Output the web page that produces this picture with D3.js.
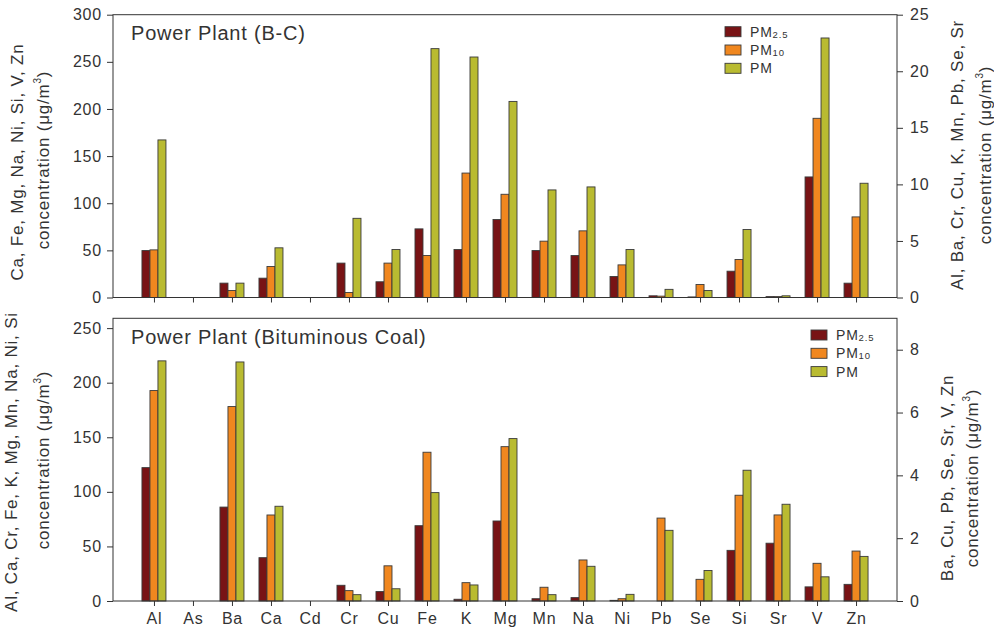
<!DOCTYPE html>
<html lang="en">
<head>
<meta charset="UTF-8">
<title>Power Plant elements</title>
<style>
  body { margin: 0; background: #fff; }
  svg text { font-family: "Liberation Sans", Arial, sans-serif; fill: #333; letter-spacing: 0.8px; }
</style>
</head>
<body>
<div id="wrapper"></div>
<script src="https://d3js.org/d3.v7.min.js"></script>
<script>
// elements on the x axis
const categories = ['Al', 'As', 'Ba', 'Ca', 'Cd', 'Cr', 'Cu', 'Fe', 'K', 'Mg', 'Mn', 'Na', 'Ni', 'Pb', 'Se', 'Si', 'Sr', 'V', 'Zn'];

// legend
const legendMain = ['PM', 'PM', 'PM'];
const legendSub = ['2.5', '10', ''];
const colors = ['#781315', '#f0871f', '#b9bb31'];

// Power Plant (B-C), values in ug/m3 (right-axis elements use the right scale)
const bcRightElements = ['Al', 'Ba', 'Cr', 'Cu', 'K', 'Mn', 'Pb', 'Se', 'Sr'];
const bcPM25 = [4.15, null, 1.27, 20.5, null, 3.04, 1.39, 72.8, 4.24, 82.7, 4.15, 44.5, 22.3, 0.15, 0.05, 27.9, 0.08, 127.9, 15.2];
const bcPM10 = [4.21, null, 0.62, 32.9, null, 0.44, 3.04, 44.5, 11.0, 109.5, 4.98, 70.7, 34.6, 0.12, 1.15, 40.3, 0.08, 190.1, 85.5];
const bcPM   = [13.93, null, 1.27, 52.7, null, 7.0, 4.24, 264, 21.26, 208, 9.51, 117.3, 50.9, 0.72, 0.62, 72.1, 0.15, 275.3, 121.2];
const bcLeftTicks = [0, 50, 100, 150, 200, 250, 300];
const bcRightTicks = [0, 5, 10, 15, 20, 25];

// Power Plant (Bituminous Coal)
const bitRightElements = ['Ba', 'Cu', 'Pb', 'Se', 'Sr', 'V', 'Zn'];
const bitPM25 = [122.2, null, 2.99, 39.7, null, 14.4, 0.30, 69, 1.6, 73.3, 2.1, 3.1, 0.6, null, null, 46.4, 1.84, 0.45, 0.53];
const bitPM10 = [192.8, null, 6.19, 78.8, null, 9.5, 1.12, 136.3, 16.8, 141.4, 12.6, 37.6, 2.1, 2.64, 0.69, 96.9, 2.74, 1.2, 1.59];
const bitPM   = [220, null, 7.61, 86.8, null, 5.8, 0.39, 99.3, 14.7, 148.8, 5.8, 31.8, 6.1, 2.25, 0.97, 119.8, 3.08, 0.77, 1.42];
const bitLeftTicks = [0, 50, 100, 150, 200, 250];
const bitRightTicks = [0, 2, 4, 6, 8];

const width = 994, height = 634;
const left = 113, right = 897;

const svg = d3.select('#wrapper').append('svg')
    .attr('width', width)
    .attr('height', height);

const x = d3.scalePoint()
    .domain(categories)
    .range([left, right])
    .padding(1.05);

const barW = 8;

function drawPanel(p) {
    const yL = d3.scaleLinear().domain([0, p.leftMax]).range([p.bottom, p.top]);
    const yR = d3.scaleLinear().domain([0, p.rightMax]).range([p.bottom, p.top]);
    const g = svg.append('g');

    // bars
    p.series.forEach((vals, s) => {
        const rows = categories.map((c, i) => ({ c, v: vals[i] })).filter(d => d.v != null);
        g.selectAll(null)
            .data(rows)
            .enter()
            .append('rect')
            .attr('x', d => x(d.c) - 1.5 * barW + s * barW)
            .attr('y', d => (p.rightSet.includes(d.c) ? yR : yL)(d.v))
            .attr('width', barW)
            .attr('height', d => p.bottom - (p.rightSet.includes(d.c) ? yR : yL)(d.v))
            .attr('fill', colors[s])
            .attr('stroke', '#3a3a3a')
            .attr('stroke-width', 0.9);
    });

    // frame
    g.append('rect')
        .attr('x', left).attr('y', p.top)
        .attr('width', right - left).attr('height', p.bottom - p.top)
        .attr('fill', 'none').attr('stroke', '#333').attr('stroke-width', 1);

    // axes
    const ax = g.append('g').attr('transform', `translate(${left},0)`)
        .call(d3.axisLeft(yL).tickValues(p.leftTicks).tickSize(6).tickPadding(5));
    const axR = g.append('g').attr('transform', `translate(${right},0)`)
        .call(d3.axisRight(yR).tickValues(p.rightTicks).tickSize(6).tickPadding(7));
    const axB = g.append('g').attr('transform', `translate(0,${p.bottom})`)
        .call(d3.axisBottom(x).tickSize(5).tickSizeOuter(0).tickPadding(7)
            .tickFormat(p.showX ? (d => d) : () => ''));
    [ax, axR, axB].forEach(a => {
        a.attr('font-size', 16).attr('color', '#333');
        a.select('.domain').remove();
    });

    // title
    g.append('text')
        .attr('x', 131).attr('y', p.top + 25.5)
        .attr('font-size', 20)
        .text(p.title);

    // axis labels
    function axisLabel(xPos, yc, lines) {
        const t = g.append('text')
            .attr('transform', `translate(${xPos[0]},${yc[0]}) rotate(-90)`)
            .attr('text-anchor', 'middle')
            .attr('font-size', 17)
            .text(lines);
        const t2 = g.append('text')
            .attr('transform', `translate(${xPos[1]},${yc[1]}) rotate(-90)`)
            .attr('text-anchor', 'middle')
            .attr('font-size', 17);
        t2.append('tspan').text('concentration (\u03bcg/m');
        t2.append('tspan').attr('font-size', 10).attr('dy', -8).text('3');
        t2.append('tspan').attr('dy', 8).text(')');
    }
    axisLabel(p.leftLabelX, p.leftLabelY, p.leftLabel);
    axisLabel(p.rightLabelX, p.rightLabelY, p.rightLabel);

    // legend
    const lg = g.append('g').attr('transform', `translate(${p.legendX},${p.legendY})`);
    legendMain.forEach((m, i) => {
        lg.append('rect')
            .attr('x', 0).attr('y', i * 18.3)
            .attr('width', 16).attr('height', 10)
            .attr('fill', colors[i]).attr('stroke', '#3a3a3a').attr('stroke-width', 0.9);
        const t = lg.append('text')
            .attr('x', 25).attr('y', i * 18.3 + 10)
            .attr('font-size', 14);
        t.append('tspan').text(m);
        if (legendSub[i]) t.append('tspan').attr('font-size', 9.5).attr('dy', 1).text(legendSub[i]);
    });
}

drawPanel({
    title: 'Power Plant (B-C)',
    top: 14.7, bottom: 297.5,
    leftMax: 300, rightMax: 25,
    leftTicks: bcLeftTicks, rightTicks: bcRightTicks,
    rightSet: bcRightElements,
    series: [bcPM25, bcPM10, bcPM],
    showX: false,
    leftLabel: 'Ca, Fe, Mg, Na, Ni, Si, V, Zn',
    rightLabel: 'Al, Ba, Cr, Cu, K, Mn, Pb, Se, Sr',
    leftLabelX: [23, 49], leftLabelY: [162, 160],
    rightLabelX: [963, 991], rightLabelY: [155, 155],
    legendX: 725, legendY: 26.7
});

drawPanel({
    title: 'Power Plant (Bituminous Coal)',
    top: 318.3, bottom: 601,
    leftMax: 259, rightMax: 9,
    leftTicks: bitLeftTicks, rightTicks: bitRightTicks,
    rightSet: bitRightElements,
    series: [bitPM25, bitPM10, bitPM],
    showX: true,
    leftLabel: 'Al, Ca, Cr, Fe, K, Mg, Mn, Na, Ni, Si',
    rightLabel: 'Ba, Cu, Pb, Se, Sr, V, Zn',
    leftLabelX: [17, 49], leftLabelY: [462, 460],
    rightLabelX: [953, 978], rightLabelY: [478, 478],
    legendX: 811, legendY: 330
});
</script>
</body>
</html>
